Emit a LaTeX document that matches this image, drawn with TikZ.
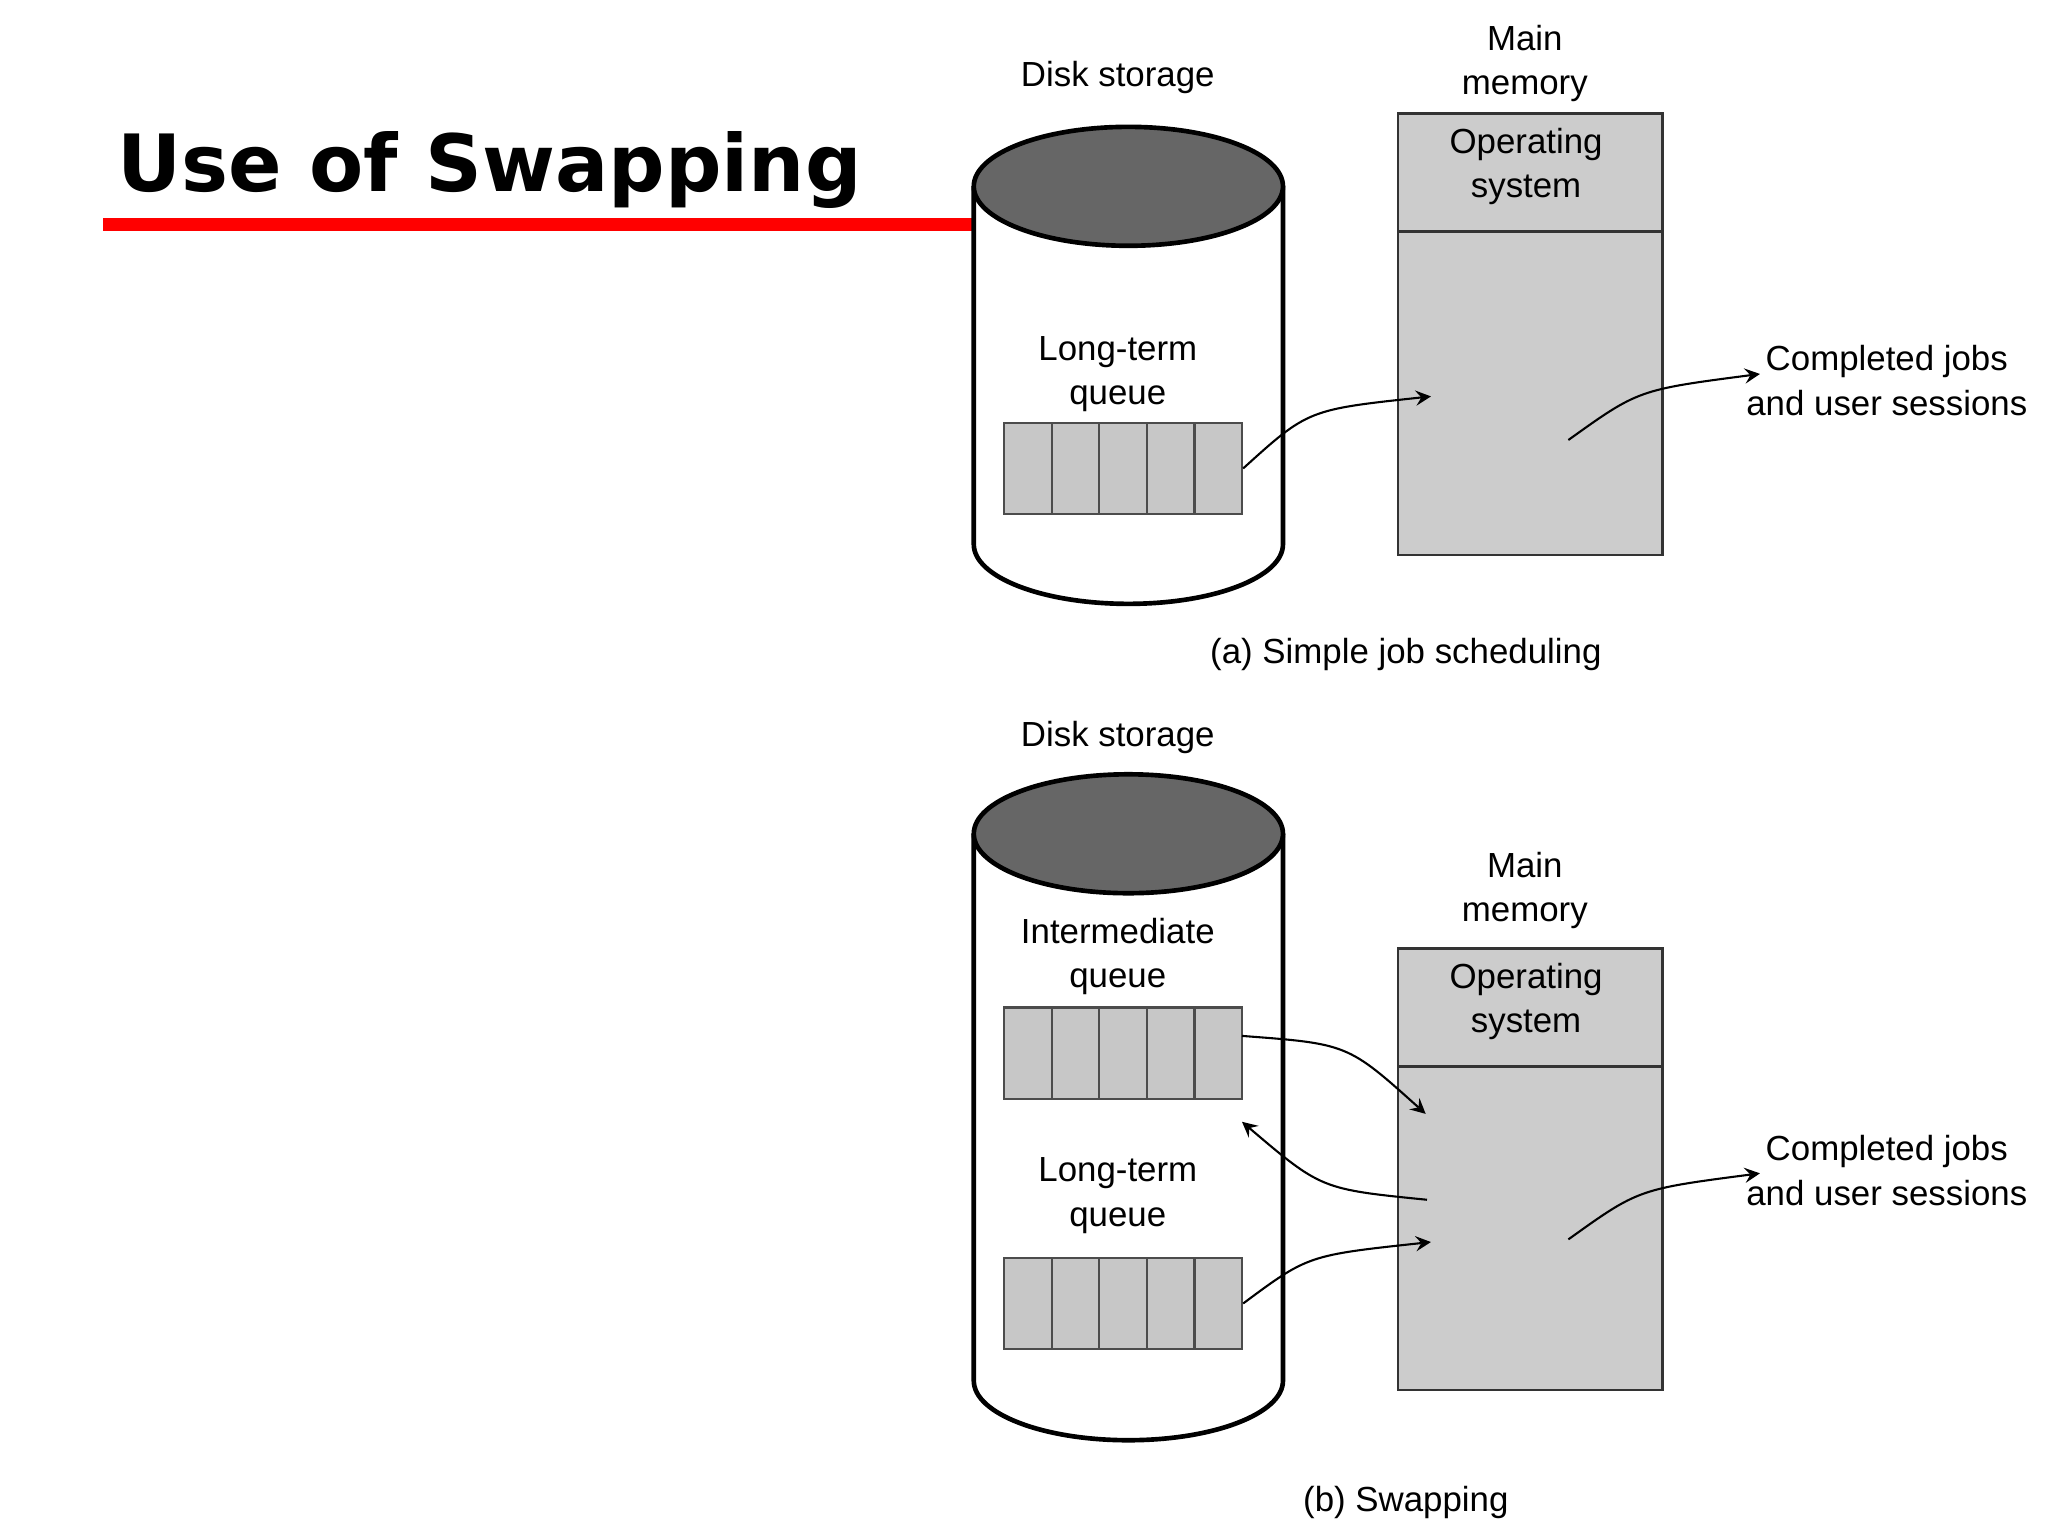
\documentclass[tikz,border=0pt]{standalone}
\usepackage{fontspec}
\setmainfont{Liberation Sans}
\newfontfamily\titlefont{DejaVu Sans}
\begin{document}
\begin{tikzpicture}[x=0.01cm,y=-0.01cm,
 lbl/.style={align=center,font=\fontsize{7.5}{9.6}\selectfont,inner sep=0},
 cell/.style={draw=black!70,fill=black!22,line width=0.5pt,minimum width=36*0.01cm,minimum height=69*0.01cm,inner sep=0},
 mem/.style={draw=black!80,fill=black!20,line width=0.6pt},
 arr/.style={-stealth,line width=0.45pt},
 cyl/.style={line width=1pt}]
\useasboundingbox (0,0) rectangle (1550,1162);
\node[anchor=base west,font=\titlefont\fontsize{17}{20}\selectfont\bfseries,inner sep=0] (title) at (88,145) {Use of Swapping};
\fill[red] (78,165) rectangle (737,175);
% ---------- (a)
\coordinate (ca) at (854,141);
\filldraw[cyl,fill=white] (737,141) -- (737,412) arc[start angle=180,end angle=360,x radius=117,y radius=-45] -- (971,141);
\filldraw[cyl,fill=black!60] (ca) ellipse[x radius=117,y radius=45];
\node[lbl] (dsa) at (846,59) {Disk storage};
\node[lbl] (lta) at (846,283) {Long-term\\queue};
\foreach \i in {0,...,4}{\node[cell] (qa\i) at (778+36*\i,354.5) {};}
\node[lbl] (mma) at (1154,48) {Main\\memory};
\draw[mem] (1058,86) rectangle (1258,420);
\draw[line width=0.6pt,black!80] (1058,175) -- (1258,175);
\node[lbl] (osa) at (1155,126) {Operating\\system};
\coordinate (ma1) at (1083,300);
\coordinate (ma2) at (1187,333);
\coordinate (ca1) at (1332,283);
\node[lbl] (cja) at (1428,288) {Completed jobs\\and user sessions};
\draw[arr] (qa4.east) .. controls (990,310) .. (ma1);
\draw[arr] (ma2) .. controls (1240,295) .. (ca1);
\node[lbl] (capa) at (1064,495) {(a) Simple job scheduling};
% ---------- (b)
\filldraw[cyl,fill=white] (737,631) -- (737,1045) arc[start angle=180,end angle=360,x radius=117,y radius=-45] -- (971,631);
\filldraw[cyl,fill=black!60] (854,631) ellipse[x radius=117,y radius=45];
\node[lbl] (dsb) at (846,558) {Disk storage};
\node[lbl] (iqb) at (846,724) {Intermediate\\queue};
\foreach \i in {0,...,4}{\node[cell] (qi\i) at (778+36*\i,797) {};}
\node[lbl] (ltb) at (846,905) {Long-term\\queue};
\foreach \i in {0,...,4}{\node[cell] (ql\i) at (778+36*\i,986.5) {};}
\node[lbl] (mmb) at (1154,674) {Main\\memory};
\draw[mem] (1058,718) rectangle (1258,1052);
\draw[line width=0.6pt,black!80] (1058,807) -- (1258,807);
\node[lbl] (osb) at (1155,758) {Operating\\system};
\coordinate (mb1) at (1079,843);
\coordinate (mb2) at (1080,908);
\coordinate (qb) at (940,849);
\coordinate (mb3) at (1083,940);
\coordinate (mb4) at (1187,938);
\coordinate (cb1) at (1332,888);
\node[lbl] (cjb) at (1428,886) {Completed jobs\\and user sessions};
\draw[arr] (940,784) .. controls (1020,790) .. (mb1);
\draw[arr] (mb2) .. controls (1000,900) .. (qb);
\draw[arr] (ql4.east) .. controls (990,950) .. (mb3);
\draw[arr] (mb4) .. controls (1240,900) .. (cb1);
\node[lbl] (capb) at (1064,1137) {(b) Swapping};
\end{tikzpicture}
\end{document}
